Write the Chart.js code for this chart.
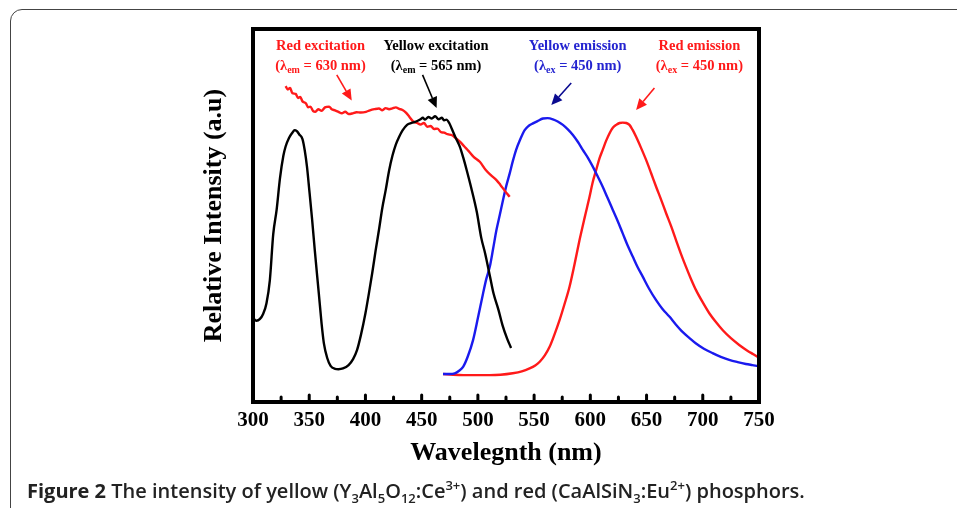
<!DOCTYPE html>
<html>
<head>
<meta charset="utf-8">
<script src="https://cdn.jsdelivr.net/npm/chart.js@4.4.0/dist/chart.umd.min.js"></script>
<style>
  html, body { margin: 0; padding: 0; background: #fff; }
  #wrap { position: relative; width: 957px; height: 508px; overflow: hidden; }
  #frame { position: absolute; left: 10px; top: 9px; width: 1000px; height: 600px;
           border: 1.5px solid #444; border-radius: 12px; }
  #c { position: absolute; left: 0; top: 0; }
  #caption { position: absolute; left: 27px; top: 477px; font-family: "Open Sans", sans-serif;
             font-size: 20px; font-weight: 600; color: #222; white-space: nowrap; }
  #caption b { font-weight: 700; }
  #caption sub, #caption sup { font-size: 13px; line-height: 0; }
</style>
</head>
<body>
<div id="wrap">
  <div id="frame"></div>
  <canvas id="c" width="957" height="508"></canvas>
  <div id="caption"><b>Figure 2</b> The intensity of yellow (Y<sub>3</sub>Al<sub>5</sub>O<sub>12</sub>:Ce<sup>3+</sup>) and red (CaAlSiN<sub>3</sub>:Eu<sup>2+</sup>) phosphors.</div>
</div>
<script>
// valores (intensidade relativa, 0..1)
var xTicks = [300, 350, 400, 450, 500, 550, 600, 650, 700, 750];

// excitação vermelha (λem = 630 nm)
var redExWl = [329, 331, 333, 335, 338, 340, 342, 344, 347, 349, 351, 353.5, 355.5, 358, 361, 364, 367.7, 370, 373, 376, 379, 382, 385, 388.7, 392, 396, 400.5, 404, 408, 412, 415, 418, 421, 424, 427, 430, 433, 436, 439, 442.5, 446, 449, 452, 455, 458, 461, 464, 467, 470, 473, 477, 480, 484, 488, 492, 496, 501.7, 507, 512, 516.5, 520, 524, 528.3];
var redExI  = [0.847, 0.838, 0.842, 0.828, 0.826, 0.815, 0.818, 0.806, 0.801, 0.790, 0.792, 0.780, 0.778, 0.785, 0.781, 0.790, 0.792, 0.785, 0.782, 0.778, 0.774, 0.778, 0.772, 0.774, 0.777, 0.776, 0.778, 0.782, 0.785, 0.787, 0.782, 0.788, 0.785, 0.787, 0.790, 0.786, 0.783, 0.776, 0.765, 0.752, 0.748, 0.744, 0.748, 0.738, 0.740, 0.732, 0.733, 0.724, 0.722, 0.718, 0.715, 0.708, 0.698, 0.685, 0.672, 0.658, 0.644, 0.622, 0.607, 0.595, 0.582, 0.566, 0.550];

// excitação amarela (λem = 565 nm)
var yelExWl = [300, 303, 306, 309, 312, 315, 318, 321, 324, 327, 329, 332, 335, 337, 339, 341, 344, 346, 348, 350, 352.6, 355, 358.5, 361, 363, 366, 369, 373, 376, 380, 385, 389, 392.5, 396, 400, 403, 406, 409, 412, 415, 418, 421, 424, 427, 430, 433, 437, 441, 445, 449, 451, 453, 456, 459, 462, 465, 468, 470, 472, 474.5, 476.6, 480, 484, 487, 490, 494, 499, 503, 506.4, 510.8, 514, 518.3, 522, 526, 529.5];
var yelExI  = [0.225, 0.218, 0.222, 0.236, 0.265, 0.327, 0.450, 0.515, 0.600, 0.660, 0.685, 0.708, 0.722, 0.729, 0.726, 0.718, 0.705, 0.675, 0.631, 0.570, 0.488, 0.405, 0.292, 0.210, 0.158, 0.118, 0.097, 0.089, 0.088, 0.090, 0.099, 0.115, 0.139, 0.180, 0.238, 0.290, 0.345, 0.405, 0.461, 0.520, 0.568, 0.620, 0.660, 0.690, 0.711, 0.728, 0.743, 0.748, 0.752, 0.758, 0.762, 0.757, 0.764, 0.760, 0.766, 0.758, 0.762, 0.755, 0.757, 0.748, 0.734, 0.710, 0.684, 0.655, 0.622, 0.575, 0.510, 0.440, 0.399, 0.336, 0.290, 0.247, 0.205, 0.170, 0.145];

// emissão amarela (λex = 450 nm)
var yelEmWl = [469, 475, 479.5, 483, 487, 491, 495.7, 500, 504.6, 507.5, 510.6, 513.5, 516.5, 519.5, 522.4, 525.3, 528.3, 531, 534, 537.5, 541.6, 545, 549, 553, 557.9, 562, 566.7, 571, 575.6, 580, 584.5, 589, 593.3, 598, 602.2, 606.5, 611, 615.5, 620, 624.5, 628.8, 633, 637.7, 642, 646.6, 652, 658.5, 664, 670.3, 676, 682, 688, 694, 701, 708.7, 716, 723.5, 731, 738.3, 744, 750];
var yelEmI  = [0.075, 0.075, 0.077, 0.083, 0.095, 0.122, 0.166, 0.225, 0.291, 0.330, 0.363, 0.410, 0.461, 0.502, 0.542, 0.580, 0.613, 0.645, 0.676, 0.703, 0.729, 0.740, 0.747, 0.753, 0.760, 0.761, 0.758, 0.752, 0.743, 0.731, 0.716, 0.697, 0.676, 0.654, 0.631, 0.605, 0.577, 0.546, 0.515, 0.484, 0.452, 0.421, 0.390, 0.362, 0.336, 0.305, 0.273, 0.250, 0.229, 0.208, 0.188, 0.172, 0.157, 0.143, 0.131, 0.121, 0.113, 0.107, 0.102, 0.099, 0.096];

// emissão vermelha (λex = 450 nm)
var redEmWl = [469, 478, 487, 500, 510.6, 520, 531, 539, 546, 551, 555, 559.5, 563.8, 568, 572.7, 577, 581.5, 586, 590.4, 595, 599.3, 602, 605.2, 608, 611, 614, 617, 620, 623, 626, 628.8, 632, 634.8, 637.5, 640.7, 645, 649.6, 654, 658.5, 663, 667.4, 672, 676.2, 680.5, 685, 689.5, 694, 700, 705.8, 711.5, 717.6, 725, 732.4, 740, 745, 750];
var redEmI  = [0.075, 0.073, 0.072, 0.072, 0.072, 0.073, 0.077, 0.082, 0.090, 0.098, 0.108, 0.125, 0.148, 0.180, 0.220, 0.262, 0.309, 0.370, 0.434, 0.495, 0.550, 0.588, 0.622, 0.652, 0.676, 0.700, 0.720, 0.735, 0.743, 0.748, 0.749, 0.748, 0.743, 0.730, 0.711, 0.682, 0.649, 0.614, 0.577, 0.542, 0.506, 0.470, 0.434, 0.398, 0.363, 0.330, 0.300, 0.267, 0.238, 0.215, 0.193, 0.171, 0.153, 0.137, 0.128, 0.119];

function pontos(wl, val) {
    return wl.map(function(w, i) { return { x: w, y: val[i] }; });
}

var serif = "'Liberation Serif', 'Times New Roman', serif";

// rótulos e setas de cada curva
var rotulos = [
    { x: 360, y: 0.957, color: '#ff1a1a', titulo: 'Red excitation', sub: 'em', valor: '630' },
    { x: 462.8, y: 0.957, color: '#000000', titulo: 'Yellow excitation', sub: 'em', valor: '565' },
    { x: 588.8, y: 0.957, color: '#2424d0', titulo: 'Yellow emission', sub: 'ex', valor: '450' },
    { x: 697, y: 0.957, color: '#ff1a1a', titulo: 'Red emission', sub: 'ex', valor: '450' }
];
var setas = [
    { x1: 374.5, y1: 0.877, x2: 387.8, y2: 0.808, color: '#ff1a1a' },
    { x1: 450.8, y1: 0.877, x2: 463.3, y2: 0.788, color: '#000000' },
    { x1: 583, y1: 0.855, x2: 565.3, y2: 0.796, color: '#0a0a90' },
    { x1: 657, y1: 0.842, x2: 640.7, y2: 0.783, color: '#ff1a1a' }
];

var molduraPlugin = {
    id: 'moldura',
    afterDraw: function(chart) {
        var ctx = chart.ctx, a = chart.chartArea, sx = chart.scales.x, sy = chart.scales.y;
        ctx.save();
        // ticks para dentro
        ctx.strokeStyle = '#000';
        ctx.lineWidth = 3;
        ctx.lineCap = 'round';
        for (var v = 325; v < 750; v += 25) {
            var px = sx.getPixelForValue(v);
            var len = (v % 50 === 0) ? 7 : 5;
            ctx.beginPath();
            ctx.moveTo(px, a.bottom);
            ctx.lineTo(px, a.bottom - len);
            ctx.stroke();
        }
        ctx.lineCap = 'butt';
        ctx.lineWidth = 4;
        ctx.strokeRect(a.left, a.top, a.right - a.left, a.bottom - a.top);

        // textos
        ctx.textBaseline = 'alphabetic';
        rotulos.forEach(function(r) {
            var cx = sx.getPixelForValue(r.x);
            var cy = sy.getPixelForValue(r.y);
            ctx.fillStyle = r.color;
            ctx.font = 'bold 14.5px ' + serif;
            ctx.textAlign = 'center';
            ctx.fillText(r.titulo, cx, cy + 5);
            // segunda linha com subscrito
            var p1 = '(\u03bb', p3 = ' = ' + r.valor + ' nm)';
            ctx.textAlign = 'left';
            ctx.font = 'bold 14.5px ' + serif;
            var w1 = ctx.measureText(p1).width, w3 = ctx.measureText(p3).width;
            ctx.font = 'bold 10px ' + serif;
            var w2 = ctx.measureText(r.sub).width;
            var x0 = cx - (w1 + w2 + w3) / 2, y0 = cy + 25;
            ctx.font = 'bold 14.5px ' + serif;
            ctx.fillText(p1, x0, y0);
            ctx.font = 'bold 10px ' + serif;
            ctx.fillText(r.sub, x0 + w1, y0 + 3);
            ctx.font = 'bold 14.5px ' + serif;
            ctx.fillText(p3, x0 + w1 + w2, y0);
        });

        // setas
        setas.forEach(function(s) {
            var x1 = sx.getPixelForValue(s.x1), y1 = sy.getPixelForValue(s.y1);
            var x2 = sx.getPixelForValue(s.x2), y2 = sy.getPixelForValue(s.y2);
            var ang = Math.atan2(y2 - y1, x2 - x1);
            var hl = 11, hw = 5;
            var bx = x2 - hl * Math.cos(ang), by = y2 - hl * Math.sin(ang);
            ctx.strokeStyle = s.color;
            ctx.fillStyle = s.color;
            ctx.lineWidth = 1.6;
            ctx.beginPath();
            ctx.moveTo(x1, y1);
            ctx.lineTo(bx, by);
            ctx.stroke();
            ctx.beginPath();
            ctx.moveTo(x2, y2);
            ctx.lineTo(bx + hw * Math.sin(ang), by - hw * Math.cos(ang));
            ctx.lineTo(bx - hw * Math.sin(ang), by + hw * Math.cos(ang));
            ctx.closePath();
            ctx.fill();
        });
        ctx.restore();
    }
};

function serie(wl, val, cor) {
    return {
        data: pontos(wl, val),
        borderColor: cor,
        borderWidth: 2.4,
        pointRadius: 0,
        fill: false,
        cubicInterpolationMode: 'monotone'
    };
}

var ctx = document.getElementById('c').getContext('2d');
new Chart(ctx, {
    type: 'line',
    data: {
        datasets: [
            serie(yelExWl, yelExI, '#000000'),
            serie(redExWl, redExI, '#ff1a1a'),
            serie(yelEmWl, yelEmI, '#1a1aee'),
            serie(redEmWl, redEmI, '#ff1a1a')
        ]
    },
    options: {
        responsive: false,
        animation: false,
        layout: { padding: { left: 195, right: 198, top: 29, bottom: 35 } },
        plugins: { legend: { display: false }, tooltip: { enabled: false } },
        scales: {
            x: {
                type: 'linear',
                min: 300,
                max: 750,
                grid: { display: false, drawTicks: false },
                border: { display: false },
                afterBuildTicks: function(scale) {
                    scale.ticks = xTicks.map(function(v) { return { value: v }; });
                },
                afterFit: function(scale) { scale.height = 71; },
                ticks: {
                    color: '#000',
                    padding: 6,
                    maxRotation: 0,
                    font: { family: serif, size: 21, weight: 'bold' }
                },
                title: {
                    display: true,
                    text: 'Wavelegnth (nm)',
                    color: '#000',
                    font: { family: serif, size: 26, weight: 'bold' }
                }
            },
            y: {
                min: 0,
                max: 1,
                grid: { display: false, drawTicks: false },
                border: { display: false },
                ticks: { display: false },
                afterFit: function(scale) { scale.width = 58; },
                title: {
                    display: true,
                    text: 'Relative Intensity (a.u)',
                    color: '#000',
                    font: { family: serif, size: 26, weight: 'bold' }
                }
            }
        }
    },
    plugins: [molduraPlugin]
});
</script>
</body>
</html>
